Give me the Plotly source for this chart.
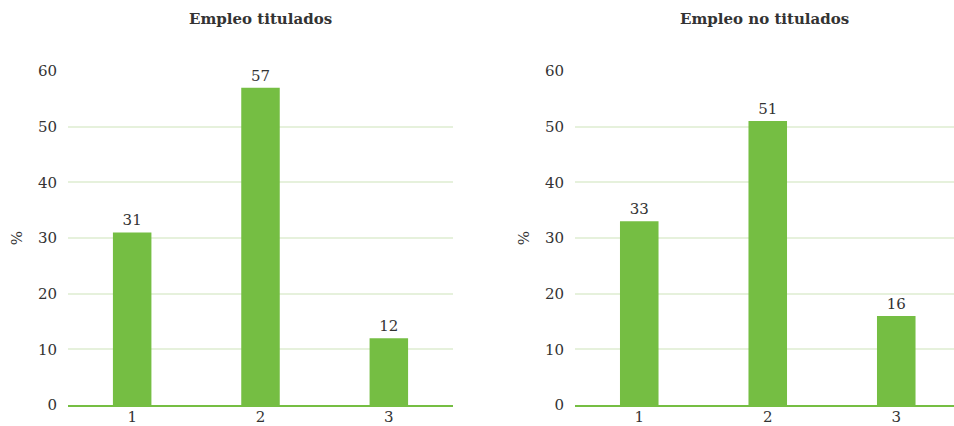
import plotly.graph_objects as go

categories = ["1", "2", "3"]
titulados = [31, 57, 12]
no_titulados = [33, 51, 16]
titles = ["Empleo titulados", "Empleo no titulados"]
y_ticks = [0, 10, 20, 30, 40, 50, 60]

GREEN = "#75BE43"
GRID = "#E6F1DC"
TEXT = "#333333"
FONT = "DejaVu Serif"

W, H = 954, 426

fig = go.Figure()
for i, vals in enumerate([titulados, no_titulados]):
    xa = "x" if i == 0 else "x2"
    ya = "y" if i == 0 else "y2"
    fig.add_trace(go.Bar(
        x=categories, y=vals, xaxis=xa, yaxis=ya,
        marker=dict(color=GREEN, line=dict(width=0)),
        text=[str(v) for v in vals], textposition="outside",
        textfont=dict(family=FONT, size=15, color=TEXT),
        cliponaxis=False, width=0.3, showlegend=False,
        hoverinfo="skip",
    ))

ydom = [(H - 405) / H, (H - 71) / H]
common_y = dict(range=[0, 60], tickvals=y_ticks, showgrid=True, gridcolor=GRID, gridwidth=1.5,
                zeroline=False, showline=False, ticks="", ticklabelstandoff=10,
                automargin=False,
                tickfont=dict(family=FONT, size=15, color=TEXT),
                title=dict(text="%", font=dict(family=FONT, size=15, color=TEXT), standoff=11),
                domain=ydom)
common_x = dict(type="category", showgrid=False, zeroline=False, showline=True,
                linecolor=GREEN, linewidth=1.5, ticks="", automargin=False,
                ticklabelstandoff=-3,
                tickfont=dict(family=FONT, size=15, color=TEXT))

fig.update_layout(
    width=W, height=H,
    margin=dict(l=0, r=0, t=0, b=0, autoexpand=False),
    paper_bgcolor="white", plot_bgcolor="white",
    bargap=0.7,
    xaxis=dict(common_x, domain=[68 / W, 453 / W], range=[-0.5, 2.5]),
    xaxis2=dict(common_x, domain=[575 / W, 1.0], range=[-0.5, -0.5 + 379 / 128.5]),
    yaxis=dict(common_y, anchor="x"),
    yaxis2=dict(common_y, anchor="x2"),
    annotations=[
        dict(text="<b>" + titles[0] + "</b>", x=(68 + 453) / 2 / W, y=(H - 19) / H,
             xref="paper", yref="paper", showarrow=False, xanchor="center", yanchor="middle",
             font=dict(family=FONT, size=15, color=TEXT)),
        dict(text="<b>" + titles[1] + "</b>", x=764 / W, y=(H - 19) / H,
             xref="paper", yref="paper", showarrow=False, xanchor="center", yanchor="middle",
             font=dict(family=FONT, size=15, color=TEXT)),
    ],
)

fig.write_html("out.html", config={"displayModeBar": False},
               post_script="document.body.style.margin='0';document.body.style.overflow='hidden';")
